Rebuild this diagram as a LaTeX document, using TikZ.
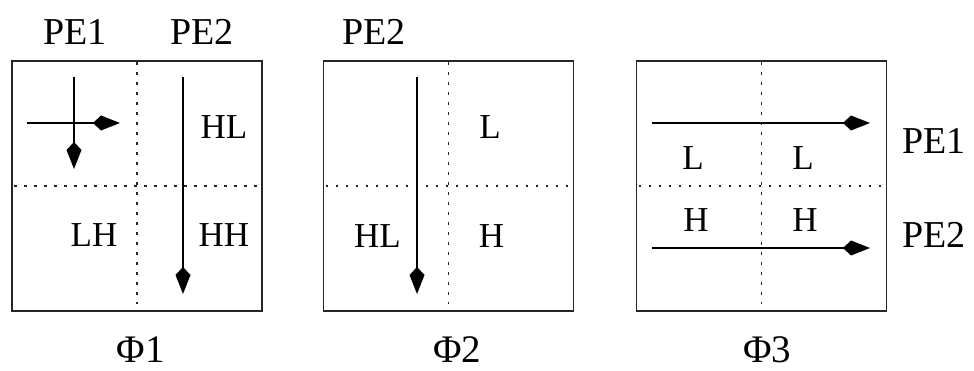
\documentclass[tikz,border=0pt]{standalone}
\usepackage{fontspec}
\setmainfont{Liberation Serif}
\usetikzlibrary{arrows.meta}
\begin{document}
\begin{tikzpicture}[x=1pt,y=-1pt,
  frame/.style={draw=black!85, line width=1.4pt, minimum width=250pt, minimum height=250pt, inner sep=0pt},
  grid/.style={draw=black!85, line width=1.5pt, dash pattern=on 2.5pt off 7.5pt},
  flow/.style={draw=black, line width=1.3pt, -{Kite[length=27pt,width=15pt,inset=8pt]}},
  quad/.style={anchor=base, inner sep=0pt, font=\fontsize{35}{38}\selectfont},
  pe/.style={anchor=base, inner sep=0pt, font=\fontsize{38}{42}\selectfont},
  phase/.style={anchor=base, inner sep=0pt, font=\fontsize{39}{44}\selectfont}]
\useasboundingbox (0,0) rectangle (974,371);

% three phase squares
\node[frame] (b1) at (137,186) {};
\node[frame] (b2) at (448.5,186) {};
\node[frame] (b3) at (761.5,186) {};

% quadrant dividers
\foreach \b in {b1,b2,b3}{
  \draw[grid] ([yshift=-2pt]\b.north) -- ([yshift=8pt]\b.south);
  \draw[grid] ([xshift=3pt]\b.west) -- ([xshift=-5pt]\b.east);
}

% phase 1
\node[pe] (p11) at (75,44.5) {PE1};
\node[pe] (p12) at (202,44.5) {PE2};
\coordinate (a1s) at (27,123);  \coordinate (a1e) at (120,123);
\coordinate (a2s) at (74,77);   \coordinate (a2e) at (74,169);
\coordinate (a3s) at (183,77);  \coordinate (a3e) at (183,294);
\draw[flow] (a1s) -- (a1e);
\draw[flow] (a2s) -- (a2e);
\draw[flow] (a3s) -- (a3e);
\node[quad] (q1hl) at (224,139) {HL};
\node[quad] (q1lh) at (94,247) {LH};
\node[quad] (q1hh) at (224,247) {HH};
\node[phase] (f1) at (141,362) {Φ1};

% phase 2
\node[pe] (p22) at (374,45) {PE2};
\coordinate (c1s) at (417,77);  \coordinate (c1e) at (417,294);
\draw[flow] (c1s) -- (c1e);
\node[quad] (q2l) at (490,139) {L};
\node[quad] (q2hl) at (377.5,248) {HL};
\node[quad] (q2h) at (491.5,248) {H};
\node[phase] (f2) at (457,362) {Φ2};

% phase 3
\coordinate (d1s) at (652,123); \coordinate (d1e) at (870,123);
\coordinate (d2s) at (652,248); \coordinate (d2e) at (870,248);
\draw[flow] (d1s) -- (d1e);
\draw[flow] (d2s) -- (d2e);
\node[quad] (q3l1) at (693,170) {L};
\node[quad] (q3l2) at (803,170) {L};
\node[quad] (q3h1) at (696,232) {H};
\node[quad] (q3h2) at (805,232) {H};
\node[pe] (p31) at (934,154) {PE1};
\node[pe] (p32) at (934,248) {PE2};
\node[phase] (f3) at (767,362) {Φ3};
\end{tikzpicture}
\end{document}
